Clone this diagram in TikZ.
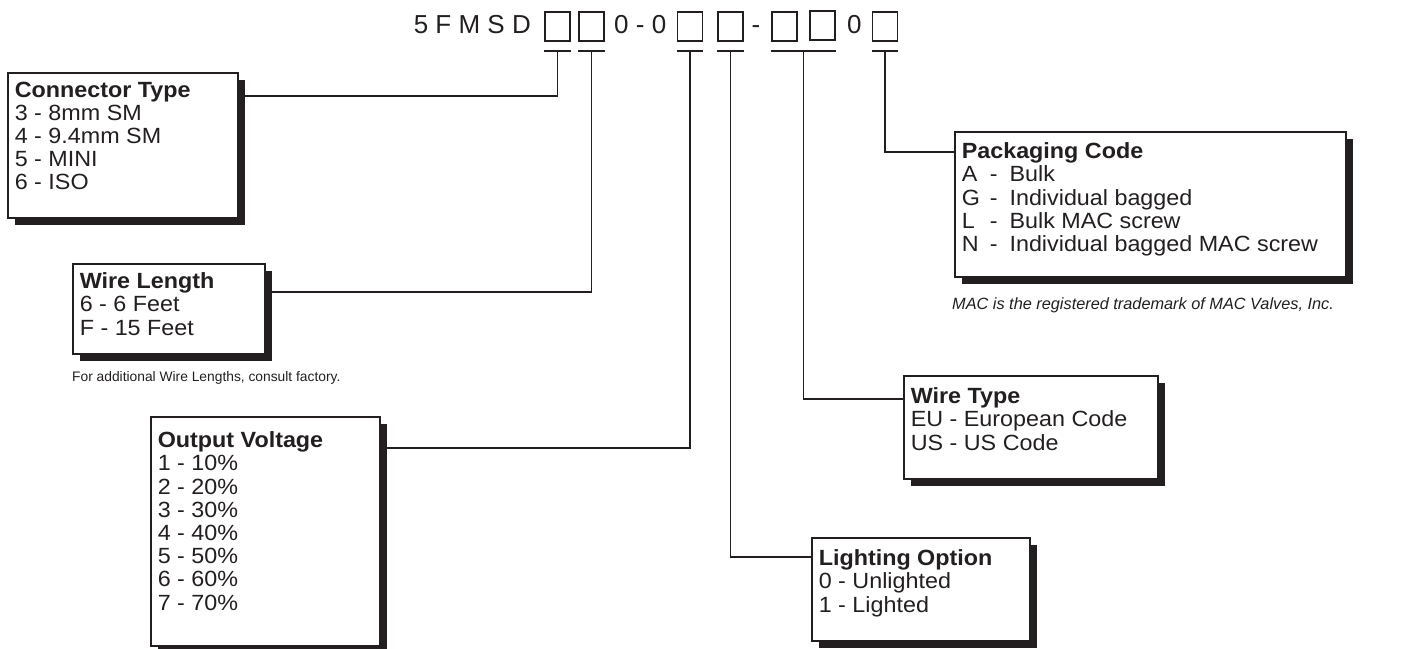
\documentclass[tikz,border=0pt]{standalone}
\usepackage{fontspec}
\setmainfont{Liberation Sans}
\newfontfamily\boxfont{Liberation Sans}[FakeStretch=1.06]
\usepackage{tikz}
\usetikzlibrary{calc,positioning,shadows}
\definecolor{codeInk}{RGB}{35,31,32}

% fixed-size text block inside an option box (#1 = extra top gap)
\newcommand{\optblock}[4]{\begin{minipage}[t][#2][t]{#3}\vspace*{#1}#4\end{minipage}}
\newcommand{\pkgrow}[2]{\makebox[28pt][l]{#1}-\hspace{12pt}#2}

\begin{document}
\begin{tikzpicture}[x=1pt,y=-1pt,
    codesq/.style={draw=codeInk, line width=1.8pt, minimum width=25pt, minimum height=29pt, inner sep=0pt},
    codetxt/.style={text=codeInk, font=\fontsize{26}{28}\selectfont, inner sep=0pt},
    optbox/.style={draw=codeInk, line width=1.6pt, fill=white, anchor=north west,
        inner xsep=7pt, inner ysep=9pt, text=codeInk, font=\boxfont\fontsize{22}{23.2}\selectfont,
        drop shadow={shadow xshift=7pt, shadow yshift=-7pt, fill=codeInk, opacity=1}},
    wire/.style={draw=codeInk, line width=1.8pt},
    note/.style={text=codeInk, inner sep=0pt, anchor=west}]
    \useasboundingbox (0,0) rectangle (1405,648);

    % part number line
    \node[codetxt, anchor=base east] (prefix) at (531,33) {5 F M S D};
    \node[codesq] (s1) at (557.5,26.5) {};
    \node[codesq] (s2) at (591.5,26.5) {};
    \node[codetxt, anchor=base west] (midzero) at (614,33) {0 - 0};
    \node[codesq] (s3) at (690,26.5) {};
    \node[codesq] (s4) at (730.5,26.5) {};
    \node[codetxt, anchor=base] (middash) at (756,33) {-};
    \node[codesq] (s5) at (784.5,26.5) {};
    \node[codesq] (s6) at (822.5,25.5) {};
    \node[codetxt, anchor=base west] (lastzero) at (847,33) {0};
    \node[codesq] (s7) at (885,26.5) {};

    % option boxes
    \node[optbox] (conntype) at (7,72) {\optblock{0pt}{127pt}{216pt}{\textbf{Connector Type}\\
        3 - 8mm SM\\4 - 9.4mm SM\\5 - MINI\\6 - ISO}};
    \node[optbox] (wirelen) at (72,263) {\optblock{0pt}{72pt}{178pt}{\textbf{Wire Length}\\
        6 - 6 Feet\\F - 15 Feet}};
    \node[optbox] (voltage) at (150,416) {\optblock{6pt}{211pt}{215pt}{\textbf{Output Voltage}\\
        1 - 10\%\\2 - 20\%\\3 - 30\%\\4 - 40\%\\5 - 50\%\\6 - 60\%\\7 - 70\%}};
    \node[optbox] (packaging) at (954,131) {\optblock{2pt}{127pt}{377pt}{\textbf{Packaging Code}\\
        \pkgrow{A}{Bulk}\\\pkgrow{G}{Individual bagged}\\\pkgrow{L}{Bulk MAC screw}\\
        \pkgrow{N}{Individual bagged MAC screw}}};
    \node[optbox] (wiretype) at (903,375) {\optblock{3pt}{85pt}{240pt}{\textbf{Wire Type}\\
        EU - European Code\\US - US Code}};
    \node[optbox] (lighting) at (811,537) {\optblock{3pt}{85pt}{204pt}{\textbf{Lighting Option}\\
        0 - Unlighted\\1 - Lighted}};

    % notes
    \node[note, font=\fontsize{13.8}{15}\selectfont] (lennote) at (72,378) {For additional Wire Lengths, consult factory.};
    \node[note, font=\itshape\fontsize{16.3}{18}\selectfont] (macnote) at (952,305) {MAC is the registered trademark of MAC Valves, Inc.};

    % tees under the squares
    \foreach \s in {s1,s2,s3,s4,s7}
        \draw[wire] ([yshift=-9pt]\s.south west) -- ([yshift=-9pt]\s.south east);
    \draw[wire] ([yshift=-9pt]s5.south west) -- ([yshift=-9pt]s5.south west -| s6.south east);
    \coordinate (t1) at ([yshift=-9pt]s1.south);
    \coordinate (t2) at ([yshift=-9pt]s2.south);
    \coordinate (t3) at ([yshift=-9pt]s3.south);
    \coordinate (t4) at ([yshift=-9pt]s4.south);
    \coordinate (t5) at ($([yshift=-9pt]s5.south west)!0.5!([yshift=-9pt]s5.south west -| s6.south east)$);
    \coordinate (t7) at ([yshift=-9pt]s7.south);

    % leaders to the boxes
    \draw[wire] (t1) |- ([yshift=-24pt]conntype.north east);
    \draw[wire] (t2) |- ([yshift=-29pt]wirelen.north east);
    \draw[wire] (t3) |- ([yshift=-32pt]voltage.north east);
    \draw[wire] (t4) |- ([yshift=-20pt]lighting.north west);
    \draw[wire] (t5) |- ([yshift=-24pt]wiretype.north west);
    \draw[wire] (t7) |- ([yshift=-21pt]packaging.north west);
\end{tikzpicture}
\end{document}
